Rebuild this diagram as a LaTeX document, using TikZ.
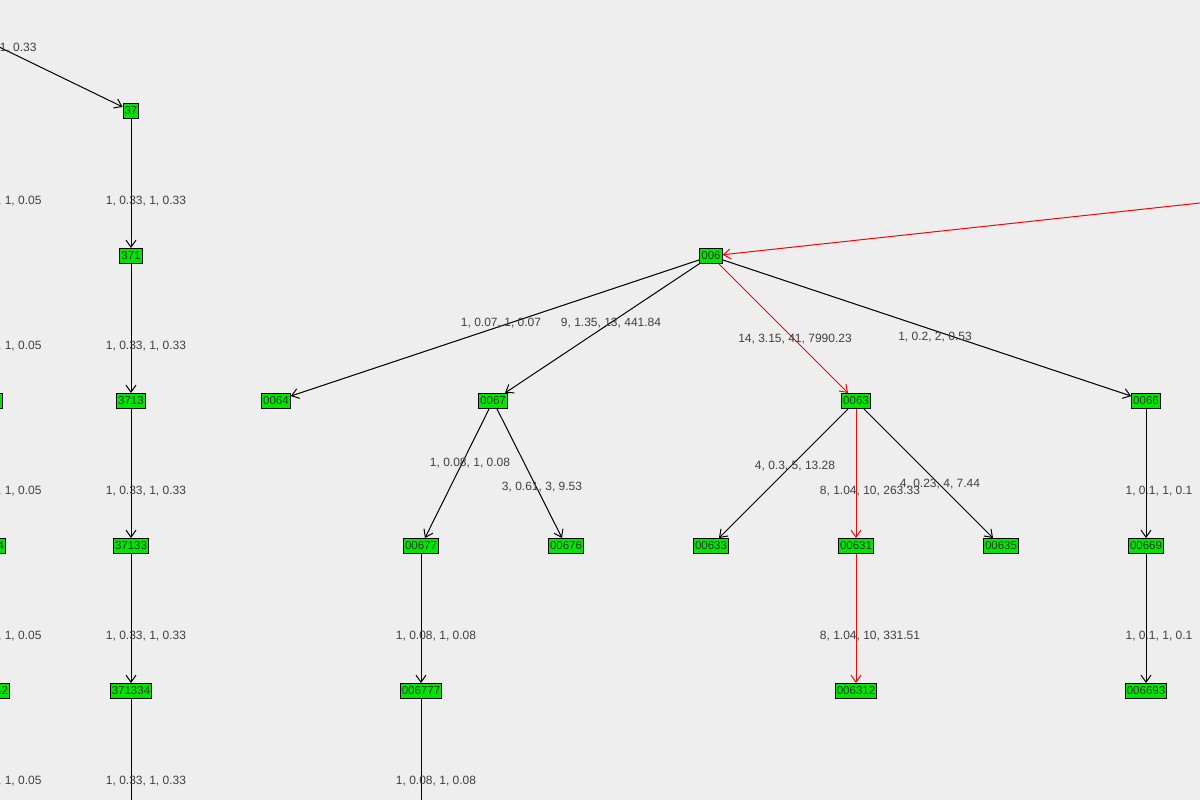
\documentclass[tikz,border=0pt]{standalone}
\usepackage{fontspec}
\setmainfont{Liberation Sans}
\usetikzlibrary{arrows.meta}
\definecolor{bgc}{RGB}{238,238,238}
\definecolor{ngreen}{RGB}{0,230,0}
\begin{document}
\begin{tikzpicture}[x=1pt,y=-1pt,line width=1pt,
  nd/.style={draw=black,fill=ngreen,inner sep=1.5pt,minimum height=15pt,font=\fontsize{11.5}{12}\selectfont,text=black!80},
  lb/.style={font=\fontsize{12}{13}\selectfont,text=black!75,inner sep=0pt},
  ed/.style={draw=black,-{Straight Barb[length=7pt,width=10pt]}},
  re/.style={draw=red,-{Straight Barb[length=7pt,width=10pt]}}]
\fill[bgc] (0,0) rectangle (1200,800);
\useasboundingbox (0,0) rectangle (1200,800);
\clip (0,0) rectangle (1200,800);
\coordinate (tl) at (-40,28);
\coordinate (tr) at (1200,203);
\coordinate (b1) at (131,810);
\coordinate (b2) at (421,810);
\node[nd] (n37) at (131,111) {37};
\node[nd] (n371) at (131,256) {371};
\node[nd] (n3713) at (131,401) {3713};
\node[nd] (n37133) at (131,546) {37133};
\node[nd] (n371334) at (131,691) {371334};
\node[nd,anchor=east] (l1) at (3,401) {3714};
\node[nd,anchor=east] (l2) at (6,546) {37144};
\node[nd,anchor=east] (l3) at (10,691) {371442};
\node[nd] (n006) at (711,256) {006};
\node[nd] (n0064) at (276,401) {0064};
\node[nd] (n0067) at (493,401) {0067};
\node[nd] (n0063) at (856,401) {0063};
\node[nd] (n0066) at (1146,401) {0066};
\node[nd] (n00677) at (421,546) {00677};
\node[nd] (n00676) at (566,546) {00676};
\node[nd] (n00633) at (711,546) {00633};
\node[nd] (n00631) at (856,546) {00631};
\node[nd] (n00635) at (1001,546) {00635};
\node[nd] (n00669) at (1146,546) {00669};
\node[nd] (n006777) at (421,691) {006777};
\node[nd] (n006312) at (856,691) {006312};
\node[nd] (n006693) at (1146,691) {006693};
\draw[ed] (tl) -- (n37);
\draw[ed] (n37) -- (n371);
\draw[ed] (n371) -- (n3713);
\draw[ed] (n3713) -- (n37133);
\draw[ed] (n37133) -- (n371334);
\draw[draw=black] (n371334) -- (b1);
\draw[re] (tr) -- (n006);
\draw[ed] (n006) -- (n0064);
\draw[ed] (n006) -- (n0067);
\draw[re] (n006) -- (n0063);
\draw[ed] (n006) -- (n0066);
\draw[ed] (n0067) -- (n00677);
\draw[ed] (n0067) -- (n00676);
\draw[ed] (n0063) -- (n00633);
\draw[re] (n0063) -- (n00631);
\draw[ed] (n0063) -- (n00635);
\draw[ed] (n0066) -- (n00669);
\draw[ed] (n00677) -- (n006777);
\draw[draw=black] (n006777) -- (b2);
\draw[re] (n00631) -- (n006312);
\draw[ed] (n00669) -- (n006693);
\node[lb,anchor=east] (t0) at (37,48) {1, 0.33, 1, 0.33};
\foreach \y/\i in {201/a,346/b,491/c,636/d,781/e}{
  \node[lb] (c\i) at (146,\y) {1, 0.33, 1, 0.33};
  \node[lb,anchor=east] (d\i) at (42,\y) {1, 0.05, 1, 0.05};}
\node[lb] (e1) at (501,323) {1, 0.07, 1, 0.07};
\node[lb] (e2) at (611,323) {9, 1.35, 13, 441.84};
\node[lb] (e3) at (795,339) {14, 3.15, 41, 7990.23};
\node[lb] (e4) at (935,337) {1, 0.2, 2, 0.53};
\node[lb] (e5) at (470,463) {1, 0.08, 1, 0.08};
\node[lb] (e6) at (542,487) {3, 0.61, 3, 9.53};
\node[lb] (e7) at (795,466) {4, 0.3, 5, 13.28};
\node[lb] (e8) at (870,491) {8, 1.04, 10, 263.33};
\node[lb] (e9) at (940,484) {4, 0.23, 4, 7.44};
\node[lb] (e10) at (1159,491) {1, 0.1, 1, 0.1};
\node[lb] (e11) at (436,636) {1, 0.08, 1, 0.08};
\node[lb] (e12) at (436,781) {1, 0.08, 1, 0.08};
\node[lb] (e13) at (870,636) {8, 1.04, 10, 331.51};
\node[lb] (e14) at (1159,636) {1, 0.1, 1, 0.1};
\end{tikzpicture}
\end{document}
